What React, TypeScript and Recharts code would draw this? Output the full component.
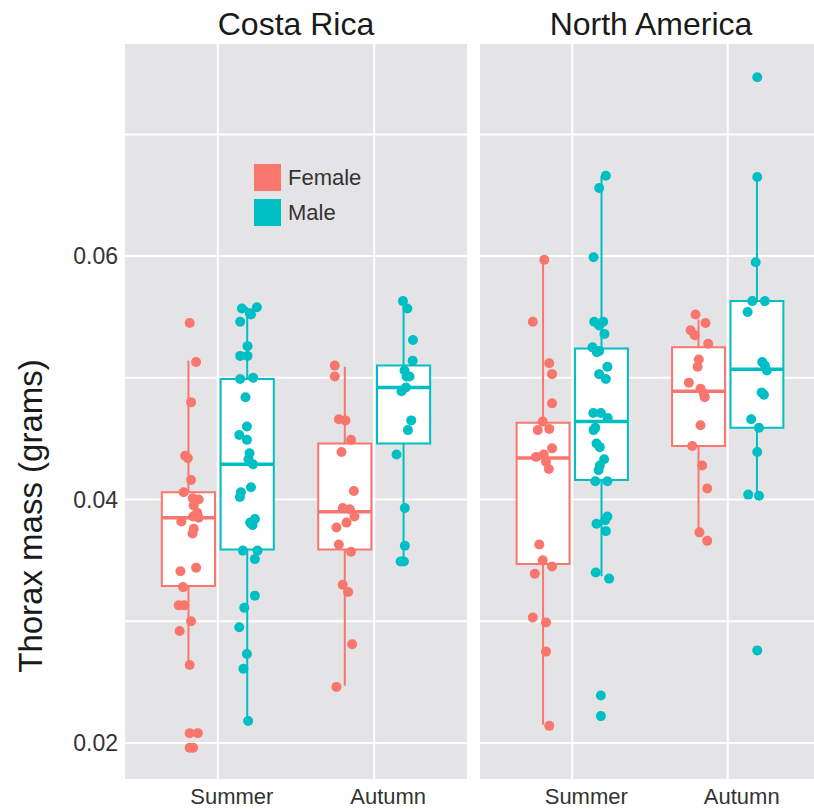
import React from "react";
import {
  ComposedChart,
  Scatter,
  XAxis,
  YAxis,
  CartesianGrid,
  ReferenceArea,
  ReferenceLine,
  Legend,
} from "recharts";

const regions = ["Costa Rica", "North America"];
const seasons = ["Summer", "Autumn"];
const sexes = ["Female", "Male"];
const yTicks = [0.02, 0.03, 0.04, 0.05, 0.06, 0.07];
const yLabelTicks = [0.02, 0.04, 0.06];

// box stats: [lower whisker, q1, median, q3, upper whisker]
const crSummerFemaleBox = [0.0264, 0.0329, 0.0385, 0.0406, 0.0514];
const crSummerMaleBox = [0.0218, 0.0359, 0.0429, 0.0499, 0.0558];
const crAutumnFemaleBox = [0.0247, 0.0359, 0.039, 0.0446, 0.0509];
const crAutumnMaleBox = [0.0349, 0.0446, 0.0492, 0.051, 0.0562];
const naSummerFemaleBox = [0.0215, 0.0347, 0.0434, 0.0463, 0.0597];
const naSummerMaleBox = [0.0337, 0.0416, 0.0464, 0.0524, 0.0666];
const naAutumnFemaleBox = [0.0369, 0.0444, 0.0489, 0.0525, 0.0548];
const naAutumnMaleBox = [0.0403, 0.0459, 0.0507, 0.0563, 0.0665];

// individual thorax masses (grams) and their horizontal jitter (fraction of a category)
const crSummerFemale = [
  0.0545, 0.0513, 0.048, 0.0436, 0.0434, 0.0416, 0.0406, 0.0401, 0.04, 0.0395,
  0.0389, 0.0386, 0.0385, 0.0382, 0.0376, 0.0372, 0.0341, 0.0344, 0.0328, 0.0313,
  0.0313, 0.03, 0.0292, 0.0264, 0.0208, 0.0208, 0.0196, 0.0196,
];
const crSummerFemaleJitter = [
  0.008, 0.049, 0.017, -0.021, -0.004, 0.017, -0.03, 0.028, 0.066, 0.034,
  0.056, 0.03, 0.066, -0.045, 0.034, 0.026, -0.051, 0.049, -0.034, -0.062,
  -0.026, 0.017, -0.056, 0.008, 0.008, 0.06, 0.008, 0.03,
];
const crSummerMale = [
  0.0557, 0.0553, 0.0558, 0.0552, 0.0546, 0.0526, 0.0518, 0.0518, 0.0499, 0.05,
  0.0484, 0.046, 0.0453, 0.0449, 0.0438, 0.0433, 0.0429, 0.041, 0.0406, 0.0402,
  0.0384, 0.0381, 0.0379, 0.0358, 0.0358, 0.0351, 0.0321, 0.0311, 0.0295, 0.0273,
  0.0261, 0.0218,
];
const crSummerMaleJitter = [
  -0.034, 0.017, 0.062, 0.024, -0.045, 0.002, -0.045, 0.002, -0.045, 0.038,
  -0.011, -0.002, -0.051, -0.002, 0.015, 0.008, 0.037, 0.024, -0.04, -0.047,
  0.049, 0.019, 0.034, -0.028, 0.066, 0.049, 0.049, -0.019, -0.051, -0.002,
  -0.024, 0.006,
];
const crAutumnFemale = [
  0.051, 0.0501, 0.0466, 0.0465, 0.0449, 0.0439, 0.0407, 0.0393, 0.0392, 0.0386,
  0.0381, 0.0377, 0.0363, 0.0357, 0.033, 0.0324, 0.0281, 0.0246,
];
const crAutumnFemaleJitter = [
  -0.064, -0.064, -0.038, 0.004, 0.04, -0.021, 0.058, -0.013, 0.032, 0.062,
  0.011, -0.053, -0.038, 0.04, -0.013, 0.021, 0.047, -0.053,
];
const crAutumnMale = [
  0.0563, 0.0557, 0.0531, 0.0514, 0.0506, 0.0501, 0.0501, 0.0492, 0.0489, 0.0465,
  0.0457, 0.0437, 0.0393, 0.0362, 0.0349, 0.0349,
];
const crAutumnMaleJitter = [
  -0.004, 0.024, 0.06, 0.058, 0.006, 0.019, 0.038, 0.015, -0.013, 0.049,
  0.028, -0.045, 0.008, 0.008, -0.019, 0.002,
];
const naSummerFemale = [
  0.0597, 0.0546, 0.0512, 0.0503, 0.0479, 0.0464, 0.0457, 0.0458, 0.0442, 0.0435,
  0.0437, 0.0431, 0.0425, 0.0363, 0.035, 0.0345, 0.0339, 0.0303, 0.0299, 0.0275,
  0.0214,
];
const naSummerFemaleJitter = [
  0.008, -0.066, 0.04, 0.058, 0.058, -0.002, -0.034, 0.04, 0.058, -0.045,
  0.004, 0.019, 0.037, -0.024, -0.002, 0.058, -0.053, -0.066, 0.019, 0.019,
  0.04,
];
const naSummerMale = [
  0.0666, 0.0656, 0.0599, 0.0546, 0.0546, 0.0543, 0.0536, 0.0525, 0.0522, 0.0521,
  0.0509, 0.0503, 0.0499, 0.0471, 0.0471, 0.0467, 0.0459, 0.0457, 0.0446, 0.0443,
  0.0433, 0.0428, 0.0424, 0.0415, 0.0415, 0.0386, 0.0383, 0.038, 0.0374, 0.034,
  0.0335, 0.0239, 0.0222,
];
const naSummerMaleJitter = [
  0.028, -0.015, -0.051, -0.047, 0.011, -0.015, 0.019, -0.058, -0.015, -0.03,
  0.038, -0.015, 0.028, -0.053, -0.004, 0.04, -0.04, -0.051, -0.032, -0.011,
  0.017, -0.011, -0.019, -0.04, 0.038, 0.038, 0.024, -0.032, 0.028, -0.037,
  0.049, -0.004, -0.004,
];
const naAutumnFemale = [
  0.0552, 0.0545, 0.0539, 0.0535, 0.0528, 0.0515, 0.0509, 0.0496, 0.0491, 0.0487,
  0.0484, 0.0461, 0.0444, 0.0428, 0.0409, 0.0373, 0.0366,
];
const naAutumnFemaleJitter = [
  -0.019, 0.045, -0.051, -0.024, 0.062, 0.002, -0.006, -0.062, 0.013, 0.034,
  0.04, 0.013, -0.04, 0.024, 0.056, 0.006, 0.056,
];
const naAutumnMale = [
  0.0747, 0.0665, 0.0595, 0.0563, 0.0563, 0.0554, 0.0513, 0.051, 0.0506, 0.0488,
  0.0486, 0.0466, 0.0459, 0.0439, 0.0404, 0.0403, 0.0276,
];
const naAutumnMaleJitter = [
  0.002, 0.002, -0.008, -0.03, 0.051, -0.06, 0.034, 0.051, 0.064, 0.03,
  0.045, -0.037, 0.013, 0.002, -0.056, 0.013, 0.002,
];

const COLORS: Record<string, string> = { Female: "#F8766D", Male: "#00BFC4" };
const DODGE = 0.188;
const HALF_BOX = 0.17;
const FONT = '"Liberation Sans", Arial, Helvetica, sans-serif';

type Group = {
  season: number;
  sex: string;
  box: number[];
  values: number[];
  jitter: number[];
};

const costaRica: Group[] = [
  { season: 1, sex: "Female", box: crSummerFemaleBox, values: crSummerFemale, jitter: crSummerFemaleJitter },
  { season: 1, sex: "Male", box: crSummerMaleBox, values: crSummerMale, jitter: crSummerMaleJitter },
  { season: 2, sex: "Female", box: crAutumnFemaleBox, values: crAutumnFemale, jitter: crAutumnFemaleJitter },
  { season: 2, sex: "Male", box: crAutumnMaleBox, values: crAutumnMale, jitter: crAutumnMaleJitter },
];

const northAmerica: Group[] = [
  { season: 1, sex: "Female", box: naSummerFemaleBox, values: naSummerFemale, jitter: naSummerFemaleJitter },
  { season: 1, sex: "Male", box: naSummerMaleBox, values: naSummerMale, jitter: naSummerMaleJitter },
  { season: 2, sex: "Female", box: naAutumnFemaleBox, values: naAutumnFemale, jitter: naAutumnFemaleJitter },
  { season: 2, sex: "Male", box: naAutumnMaleBox, values: naAutumnMale, jitter: naAutumnMaleJitter },
];

const centerOf = (g: Group) => g.season + (g.sex === "Female" ? -DODGE : DODGE);

const pointsFor = (groups: Group[], sex: string) =>
  groups
    .filter((g) => g.sex === sex)
    .flatMap((g) => g.values.map((v, i) => ({ x: centerOf(g) + g.jitter[i], y: v })));

const SexLegend = () => (
  <div style={{ fontFamily: FONT }}>
    {sexes.map((s) => (
      <div key={s} style={{ display: "flex", alignItems: "center", height: 35 }}>
        <span style={{ width: 27, height: 27, background: COLORS[s], display: "inline-block" }} />
        <span style={{ marginLeft: 7, fontSize: 22, color: "#333" }}>{s}</span>
      </div>
    ))}
  </div>
);

const Panel = ({ groups, first, width }: { groups: Group[]; first: boolean; width: number }) => (
  <ComposedChart
    width={width}
    height={809}
    margin={{ top: 43, right: first ? 2 : 0, bottom: 0, left: 0 }}
  >
    <CartesianGrid fill="#E4E4E6" stroke="#ffffff" strokeWidth={2} />
    <XAxis
      type="number"
      dataKey="x"
      domain={[0.4, 2.6]}
      ticks={[1, 2]}
      interval={0}
      allowDataOverflow
      tickFormatter={(v) => seasons[v - 1]}
      axisLine={false}
      tickLine={false}
      tickSize={0}
      tickMargin={8}
      height={29}
      tick={{ fontSize: 22, fill: "#333", fontFamily: FONT, dx: 14 }}
    />
    <YAxis
      type="number"
      dataKey="y"
      domain={[0.01695, 0.07751]}
      ticks={yTicks}
      interval={0}
      allowDataOverflow
      hide={!first}
      width={124}
      tickFormatter={(v) => (yLabelTicks.includes(v) ? v.toFixed(2) : "")}
      axisLine={false}
      tickLine={false}
      tickSize={0}
      tickMargin={6}
      tick={{ fontSize: 23, fill: "#333", fontFamily: FONT }}
    />
    {groups.map((g, i) => {
      const c = centerOf(g);
      const [lo, q1, med, q3, hi] = g.box;
      const color = COLORS[g.sex];
      return (
        <React.Fragment key={i}>
          <ReferenceLine segment={[{ x: c, y: lo }, { x: c, y: q1 }]} stroke={color} strokeWidth={2} />
          <ReferenceLine segment={[{ x: c, y: q3 }, { x: c, y: hi }]} stroke={color} strokeWidth={2} />
          <ReferenceArea
            x1={c - HALF_BOX}
            x2={c + HALF_BOX}
            y1={q1}
            y2={q3}
            fill="#ffffff"
            fillOpacity={1}
            stroke={color}
            strokeWidth={2}
          />
          <ReferenceLine
            segment={[{ x: c - HALF_BOX, y: med }, { x: c + HALF_BOX, y: med }]}
            stroke={color}
            strokeWidth={3.5}
          />
        </React.Fragment>
      );
    })}
    {sexes.map((s) => (
      <Scatter
        key={s}
        name={s}
        data={pointsFor(groups, s)}
        isAnimationActive={false}
        shape={(p: any) => <circle cx={p.cx} cy={p.cy} r={5} fill={COLORS[s]} />}
      />
    ))}
    {first && (
      <Legend
        layout="vertical"
        align="center"
        verticalAlign="middle"
        wrapperStyle={{ left: 254, top: 160, width: "auto", height: "auto" }}
        content={() => <SexLegend />}
      />
    )}
  </ComposedChart>
);

export default function App() {
  return (
    <div
      style={{
        position: "absolute",
        left: 0,
        top: 0,
        width: 814,
        height: 809,
        overflow: "hidden",
        background: "#fff",
        fontFamily: FONT,
      }}
    >
      <div style={{ position: "absolute", left: 0, top: 0 }}>
        <Panel groups={costaRica} first width={470} />
      </div>
      <div style={{ position: "absolute", left: 479, top: 0 }}>
        <Panel groups={northAmerica} first={false} width={342} />
      </div>
      <svg
        width={814}
        height={809}
        style={{ position: "absolute", left: 0, top: 0, pointerEvents: "none" }}
      >
        <text x={296} y={35} textAnchor="middle" fontSize={32} fill="#1a1a1a" fontFamily={FONT}>
          {regions[0]}
        </text>
        <text x={651} y={35} textAnchor="middle" fontSize={32} fill="#1a1a1a" fontFamily={FONT}>
          {regions[1]}
        </text>
        <text
          x={42}
          y={516}
          transform="rotate(-90 42 516)"
          textAnchor="middle"
          fontSize={33}
          fill="#1a1a1a"
          fontFamily={FONT}
        >
          Thorax mass (grams)
        </text>
      </svg>
    </div>
  );
}
